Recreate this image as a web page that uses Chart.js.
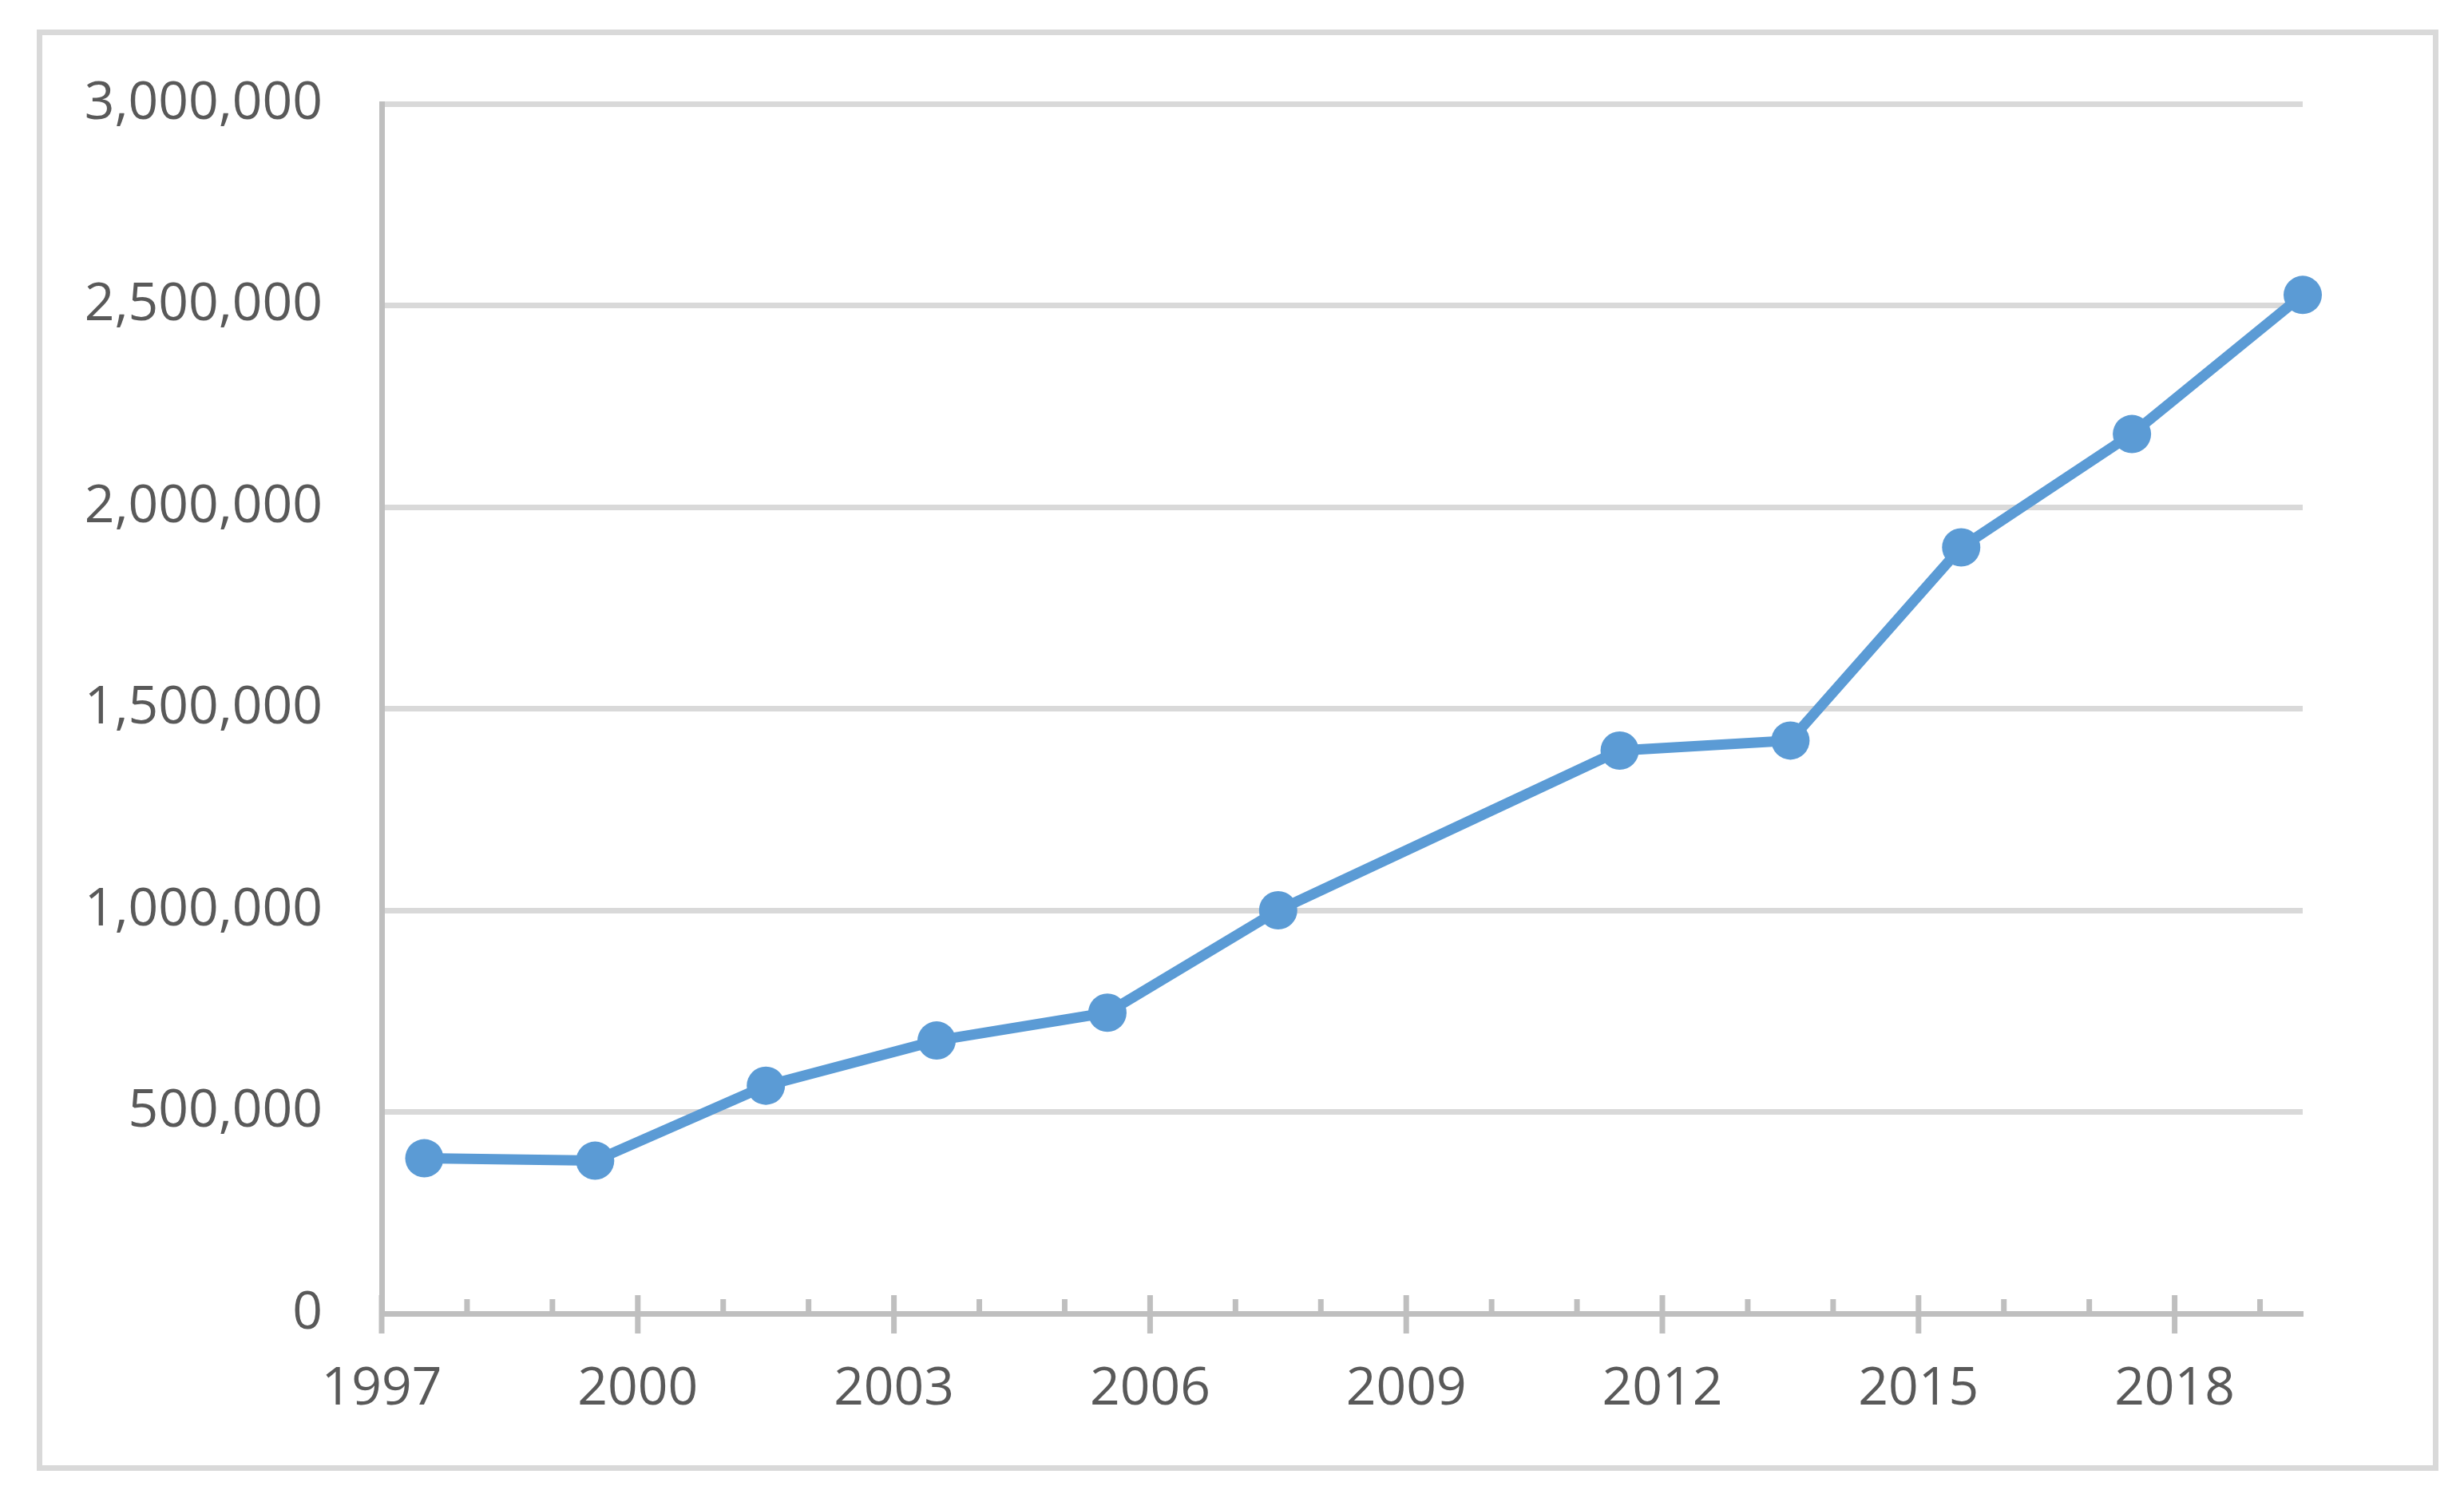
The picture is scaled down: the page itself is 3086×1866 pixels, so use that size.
<!DOCTYPE html>
<html>
<head>
<meta charset="utf-8">
<script src="https://cdn.jsdelivr.net/npm/chart.js@4.4.1/dist/chart.umd.min.js"></script>
<style>
    html, body { margin:0; padding:0; background:#ffffff; }
    #wrap { position:relative; width:3086px; height:1866px; }
    #frame { position:absolute; left:46px; top:37px; width:3008px; height:1805px;
             box-sizing:border-box; border:7px solid #d9d9d9; pointer-events:none; }
    #chartLine { position:absolute; left:0; top:0; }
</style>
</head>
<body>
<div id="wrap">
    <canvas id="chartLine" width="3086" height="1866"></canvas>
    <div id="frame"></div>
</div>
<script>
    // data (mid-year points)
    let yearMid   = [1997.5, 1999.5, 2001.5, 2003.5, 2005.5, 2007.5, 2011.5, 2013.5, 2015.5, 2017.5, 2019.5];
    let values    = [385000, 379000, 565000, 677000, 746000, 1000000, 1396000, 1421000, 1900000, 2181000, 2526000];

    // axis
    let xLabelYears = [1997, 2000, 2003, 2006, 2009, 2012, 2015, 2018];
    let xMin = 1997;
    let xMax = 2019.5;
    let yMin = 0;
    let yMax = 3000000;
    let yStep = 500000;

    const lineColor = "#5b9bd5";
    const axisColor = "#bfbfbf";
    const gridColor = "#d9d9d9";
    const textColor = "#595959";
    const fontFamily = "'Open Sans', 'Liberation Sans', sans-serif";

    // excel style tick marks : major = cross, minor = inside
    const tickMarkPlugin = {
        id: "tickMarks",
        beforeDatasetsDraw(chart) {
            const ctx = chart.ctx;
            const xs = chart.scales.x;
            const base = chart.chartArea.bottom;
            ctx.save();
            ctx.strokeStyle = axisColor;
            ctx.lineWidth = 7;
            for (let yr = Math.ceil(xMin); yr <= xMax; yr++) {
                const px = xs.getPixelForValue(yr);
                const major = xLabelYears.indexOf(yr) > -1;
                ctx.beginPath();
                if (major) {
                    ctx.moveTo(px, base - 23);
                    ctx.lineTo(px, base + 25);
                } else {
                    ctx.moveTo(px, base - 18);
                    ctx.lineTo(px, base);
                }
                ctx.stroke();
            }
            ctx.restore();
        }
    };

    function setChart() {
        const chartArea = document.getElementById("chartLine").getContext("2d");

        let points = [];
        for (let i = 0; i < yearMid.length; i++) {
            points.push({ x: yearMid[i], y: values[i] });
        }

        new Chart(chartArea, {
            type: "line",
            data: {
                datasets: [
                    {
                        data: points,
                        borderColor: lineColor,
                        backgroundColor: lineColor,
                        borderWidth: 13,
                        pointRadius: 24,
                        pointBorderWidth: 0,
                        pointBackgroundColor: lineColor,
                        tension: 0,
                        clip: false
                    }
                ]
            },
            options: {
                responsive: false,
                devicePixelRatio: 1,
                animation: false,
                layout: { padding: { left: 0, top: 130, right: 202, bottom: 0 } },
                plugins: {
                    legend: { display: false },
                    title: { display: false },
                    tooltip: { enabled: false }
                },
                scales: {
                    x: {
                        type: "linear",
                        min: xMin,
                        max: xMax,
                        afterBuildTicks: function (scale) {
                            scale.ticks = xLabelYears.map(function (v) { return { value: v }; });
                        },
                        afterFit: function (scale) { scale.height = 1866 - 1645; },
                        grid: { display: true, drawOnChartArea: false, drawTicks: false },
                        border: { display: true, color: axisColor, width: 7 },
                        ticks: {
                            autoSkip: false,
                            maxRotation: 0,
                            padding: 56,
                            color: textColor,
                            font: { family: fontFamily, size: 66 },
                            callback: function (v) { return String(v); }
                        }
                    },
                    y: {
                        min: yMin,
                        max: yMax,
                        afterFit: function (scale) { scale.width = 478; },
                        grid: { color: gridColor, lineWidth: 7, drawTicks: false },
                        border: { display: true, color: axisColor, width: 7 },
                        ticks: {
                            stepSize: yStep,
                            padding: 74,
                            color: textColor,
                            font: { family: fontFamily, size: 66 },
                            callback: function (v) { return v.toLocaleString("en-US"); }
                        }
                    }
                }
            },
            plugins: [tickMarkPlugin]
        });
    }

    setChart();
</script>
</body>
</html>
